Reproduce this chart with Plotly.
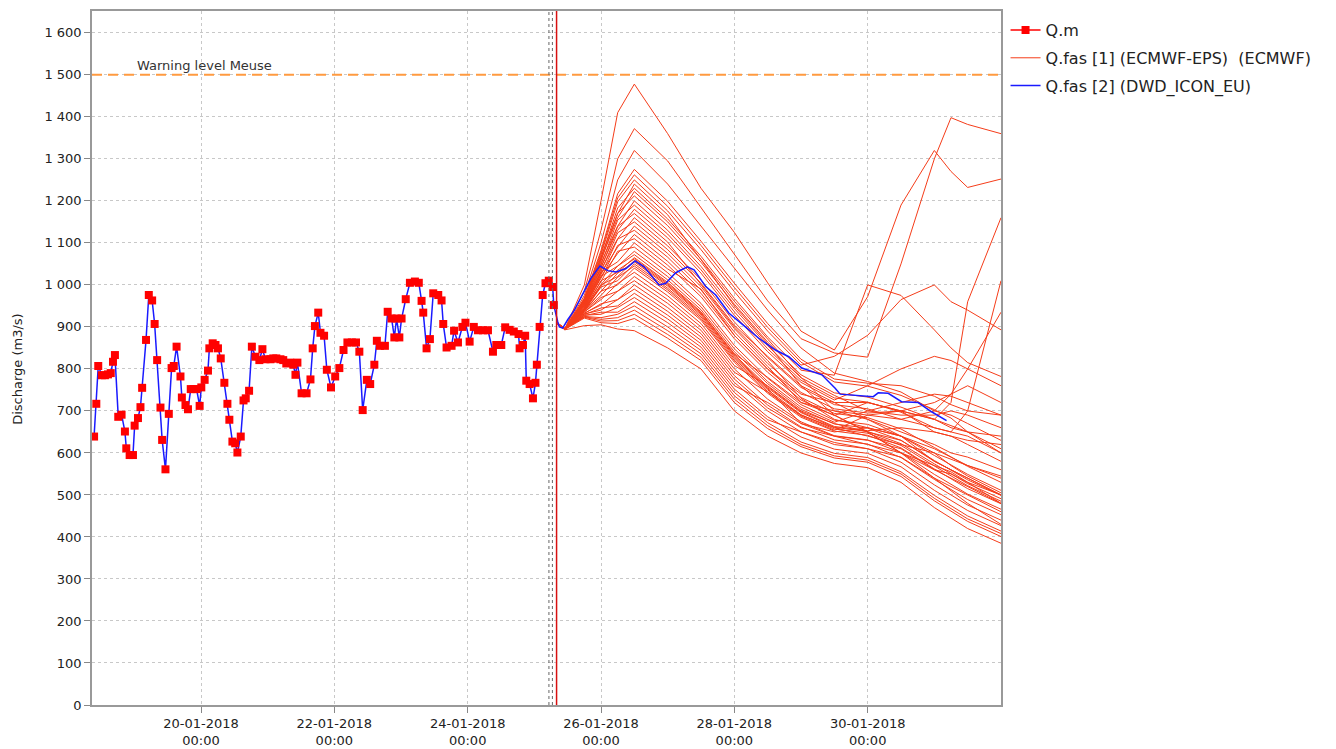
import plotly.graph_objects as go
import pandas as pd

# ---------------- data ----------------
base_time = pd.Timestamp('2018-01-20 00:00')

# observed discharge Q.m (hours relative to 20-01-2018 00:00)
obs_hours = [-38.5, -37.7, -37.0, -35.7, -34.6, -33.5, -32.5, -31.7, -31.0, -29.8,
             -28.6, -27.4, -26.9, -25.7, -24.5, -23.9, -22.7, -21.8, -21.2, -19.8,
             -18.8, -17.6, -16.7, -15.8, -14.6, -14.0, -12.8, -11.6, -10.6, -9.8,
             -8.8, -7.4, -6.9, -5.6, -4.7, -3.7, -2.7, -1.6, -0.5, 0.1,
             1.3, 2.5, 3.0, 4.2, 5.2, 6.1, 7.1, 8.4, 9.5, 10.2,
             11.3, 12.3, 13.1, 14.3, 15.3, 16.1, 17.3, 18.3, 19.6, 21.0,
             22.1, 23.2, 25.0, 26.0, 27.1, 28.6, 29.6, 30.7, 32.1, 33.2,
             34.0, 34.7, 36.2, 38.0, 39.4, 40.2, 41.0, 42.2, 43.0, 44.3,
             45.3, 46.8, 48.3, 49.8, 51.3, 52.7, 54.3, 55.8, 57.0, 58.2,
             59.7, 60.9, 62.4, 63.3, 64.4, 66.2, 67.2, 68.6, 69.6, 70.4,
             71.4, 72.2, 73.7, 75.2, 77.0, 78.4, 79.4, 80.0, 81.2, 82.4,
             83.6, 85.4, 86.6, 87.2, 88.4, 90.2, 91.1, 92.5, 94.1, 95.2,
             96.7, 98.2, 99.7, 101.5, 103.3, 105.1, 106.3, 108.1, 109.5, 111.1,
             112.6, 114.3, 114.7, 115.9, 116.7, 117.1, 118.3, 119.5, 120.4, 120.9,
             121.9, 123.0, 124.0, 125.2, 126.6, 127.0]
obs_values = [639, 717, 807, 785, 785, 787, 790, 817, 833, 686,
              691, 651, 611, 595, 595, 665, 683, 709, 755, 869,
              976, 963, 907, 821, 708, 631, 561, 693, 802, 807,
              853, 782, 732, 714, 704, 752, 752, 752, 712, 756,
              774, 796, 849, 861, 857, 849, 825, 767, 717, 679,
              627, 623, 601, 639, 725, 730, 748, 853, 829, 821,
              847, 823, 823, 825, 825, 823, 821, 813, 815, 810,
              786, 815, 742, 742, 775, 849, 902, 934, 886, 879,
              798, 756, 782, 802, 845, 863, 863, 863, 841, 702,
              774, 764, 810, 867, 855, 855, 936, 920, 875, 920,
              875, 920, 966, 1005, 1008, 1005, 962, 934, 849, 871,
              980, 976, 963, 907, 851, 855, 891, 863, 900, 910,
              865, 900, 892, 892, 892, 841, 857, 857, 899, 893,
              889, 883, 849, 857, 879, 772, 764, 730, 767, 810,
              900, 976, 1004, 1010, 995, 952]

# DWD_ICON_EU forecast (after the observations)
dwd_hours = [128.4, 129.0, 130.2, 132.0, 134.4, 137.4, 140.4, 143.6, 146.4, 149.4,
             153.0, 156.3, 159.5, 164.9, 167.3, 170.9, 175.1, 177.5, 181.7, 185.3,
             190.0, 196.0, 200.8, 206.8, 211.6, 216.3, 223.5, 228.3, 230.1, 242.0,
             243.8, 247.4, 252.2, 258.2, 263.0, 268.4]
dwd_values = [913, 900, 897, 917, 940, 980, 1016, 1045, 1034, 1031,
              1039, 1057, 1043, 1000, 1004, 1029, 1043, 1036, 996, 976,
              933, 900, 873, 845, 829, 802, 786, 754, 740, 734,
              743, 742, 722, 720, 698, 677]

# ECMWF-EPS ensemble members (values at the hours below)
ecmwf_hours = [128, 131, 138, 144, 150, 156, 168, 180, 192, 204, 216, 228, 240, 252, 264, 270, 276, 288]
ecmwf_members = [
    [912, 895, 1000, 1200, 1410, 1478, 1360, 1230, 1125, 1005, 890, 845, 972, 1190, 1320, 1270, 1232, 1252],
    [910, 896, 985, 1130, 1300, 1372, 1295, 1185, 1075, 962, 872, 838, 828, 1050, 1300, 1398, 1382, 1360],
    [910, 895, 975, 1100, 1250, 1320, 1240, 1140, 1040, 940, 850, 790, 770, 745, 700, 690, 670, 630],
    [911, 894, 969, 1082, 1217, 1275, 1199, 1104, 1004, 908, 823, 776, 766, 760, 735, 715, 700, 690],
    [909, 895, 967, 1077, 1207, 1262, 1187, 1094, 994, 899, 816, 769, 759, 737, 703, 683, 650, 600],
    [910, 896, 966, 1072, 1198, 1250, 1176, 1084, 984, 890, 809, 830, 880, 965, 1000, 960, 940, 893],
    [908, 894, 964, 1068, 1170, 1240, 1167, 1060, 950, 860, 760, 690, 650, 600, 540, 510, 480, 430],
    [910, 895, 963, 1064, 1183, 1230, 1157, 1068, 968, 876, 797, 785, 1000, 975, 893, 850, 815, 782],
    [911, 896, 962, 1061, 1160, 1222, 1150, 1061, 961, 871, 780, 700, 680, 640, 580, 560, 540, 500],
    [910, 895, 961, 1057, 1170, 1212, 1141, 1054, 954, 864, 786, 743, 733, 709, 680, 720, 960, 1160],
    [909, 894, 959, 1052, 1140, 1200, 1130, 1044, 944, 855, 779, 737, 700, 690, 690, 700, 690, 660],
    [910, 895, 958, 1048, 1154, 1190, 1121, 1036, 936, 848, 773, 731, 721, 697, 660, 650, 700, 1010],
    [910, 896, 956, 1044, 1130, 1180, 1112, 1028, 928, 841, 768, 726, 760, 800, 830, 820, 800, 760],
    [911, 895, 955, 1040, 1139, 1170, 1102, 1000, 900, 820, 730, 680, 660, 640, 600, 570, 545, 505],
    [910, 894, 954, 1036, 1110, 1160, 1093, 1012, 912, 827, 756, 715, 705, 680, 700, 740, 800, 935],
    [909, 895, 952, 1032, 1124, 1150, 1084, 1004, 904, 830, 760, 720, 720, 700, 650, 640, 620, 580],
    [910, 896, 951, 1028, 1090, 1140, 1075, 996, 896, 813, 744, 705, 695, 700, 720, 740, 760, 720],
    [910, 895, 950, 1024, 1109, 1130, 1066, 988, 888, 806, 720, 690, 650, 600, 560, 550, 530, 480],
    [911, 894, 948, 1020, 1075, 1120, 1056, 980, 880, 799, 732, 694, 684, 657, 613, 590, 568, 530],
    [910, 895, 947, 1016, 1094, 1110, 1047, 972, 872, 792, 726, 689, 720, 700, 680, 665, 650, 640],
    [909, 896, 945, 1030, 1055, 1100, 1038, 990, 880, 800, 740, 720, 680, 650, 620, 600, 590, 560],
    [910, 895, 944, 1008, 1080, 1090, 1029, 956, 856, 778, 715, 678, 668, 640, 594, 571, 549, 511],
    [910, 894, 943, 1020, 1045, 1080, 1020, 948, 848, 770, 709, 673, 700, 720, 740, 735, 720, 690],
    [911, 895, 942, 1001, 1045, 1072, 1012, 941, 841, 765, 704, 669, 659, 630, 582, 559, 536, 499],
    [910, 896, 941, 1010, 1030, 1065, 1006, 936, 836, 780, 720, 700, 690, 700, 680, 660, 650, 610],
    [909, 895, 940, 997, 1035, 1062, 1003, 934, 834, 758, 698, 663, 653, 660, 650, 640, 630, 620],
    [910, 894, 940, 1000, 1020, 1058, 1000, 931, 831, 755, 696, 661, 651, 622, 574, 551, 527, 491],
    [910, 895, 939, 985, 1028, 1055, 997, 928, 828, 753, 670, 650, 660, 640, 610, 590, 570, 540],
    [911, 896, 939, 995, 1010, 1050, 992, 924, 824, 750, 691, 657, 647, 618, 569, 545, 522, 485],
    [910, 895, 938, 975, 1018, 1045, 988, 920, 820, 746, 688, 654, 690, 680, 660, 650, 640, 600],
    [909, 894, 937, 985, 1000, 1040, 983, 916, 816, 742, 685, 652, 642, 612, 562, 539, 515, 479],
    [910, 895, 936, 965, 1003, 1030, 974, 908, 808, 760, 700, 670, 650, 630, 580, 560, 540, 500],
    [910, 896, 935, 970, 985, 1020, 965, 900, 800, 728, 674, 641, 631, 601, 549, 526, 502, 466],
    [911, 895, 933, 952, 985, 1010, 956, 892, 792, 745, 690, 660, 640, 620, 600, 585, 570, 545],
    [910, 894, 932, 955, 965, 1000, 946, 884, 784, 714, 662, 631, 621, 589, 537, 513, 489, 453],
    [909, 895, 931, 940, 965, 990, 937, 876, 776, 707, 660, 640, 630, 610, 560, 540, 520, 480],
    [910, 896, 929, 945, 950, 980, 928, 868, 768, 700, 650, 620, 610, 578, 524, 500, 476, 440],
    [910, 895, 928, 930, 946, 970, 919, 860, 760, 720, 670, 640, 620, 600, 570, 555, 530, 500],
    [911, 894, 927, 935, 935, 960, 910, 852, 752, 686, 638, 609, 599, 567, 511, 487, 463, 427],
    [910, 895, 925, 922, 930, 950, 900, 844, 744, 679, 650, 625, 610, 590, 540, 520, 500, 460],
    [909, 896, 924, 918, 922, 940, 891, 836, 736, 672, 626, 599, 589, 555, 499, 474, 450, 414],
    [910, 895, 923, 914, 915, 930, 882, 828, 728, 665, 620, 593, 583, 550, 492, 468, 443, 408],
    [910, 894, 921, 910, 908, 920, 873, 820, 720, 658, 615, 588, 578, 544, 486, 461, 437, 401],
    [908, 893, 903, 905, 895, 891, 850, 800, 700, 640, 600, 575, 565, 530, 470, 445, 420, 385],
]

warning_level = 1500
warning_label = 'Warning level Meuse'
forecast_time = '2018-01-25 08:00'
marker_times = ['2018-01-25 05:15', '2018-01-25 06:30']

x_range = ['2018-01-18 08:45', '2018-02-01 00:00']
x_tick_dates = ['2018-01-20', '2018-01-22', '2018-01-24', '2018-01-26', '2018-01-28', '2018-01-30']
x_tick_labels = ['20-01-2018<br>00:00', '22-01-2018<br>00:00', '24-01-2018<br>00:00',
                 '26-01-2018<br>00:00', '28-01-2018<br>00:00', '30-01-2018<br>00:00']
y_range = [0, 1652]
y_tick_values = [0, 100, 200, 300, 400, 500, 600, 700, 800, 900, 1000, 1100, 1200, 1300, 1400, 1500, 1600]
y_tick_labels = ['0', '100', '200', '300', '400', '500', '600', '700', '800', '900',
                 '1 000', '1 100', '1 200', '1 300', '1 400', '1 500', '1 600']

series_names = ['Q.m', 'Q.fas [1] (ECMWF-EPS)  (ECMWF)', 'Q.fas [2] (DWD_ICON_EU)']

# ---------------- figure ----------------
def to_time(hours):
    return [base_time + pd.Timedelta(hours=h) for h in hours]

fig = go.Figure()

ens_t = to_time(ecmwf_hours)
for i, member in enumerate(ecmwf_members):
    fig.add_trace(go.Scatter(
        x=ens_t, y=member, mode='lines', name=series_names[1],
        line=dict(color='#f53c19', width=1),
        legendgroup='ecmwf', legendrank=2, showlegend=(i == 0)))

obs_t = to_time(obs_hours)
fig.add_trace(go.Scatter(
    x=obs_t + to_time(dwd_hours), y=obs_values + dwd_values, mode='lines',
    name=series_names[2], line=dict(color='#1a1aff', width=1.5),
    legendgroup='dwd', legendrank=3))

# observed markers on top
fig.add_trace(go.Scatter(
    x=obs_t, y=obs_values, mode='markers', name=series_names[0],
    marker=dict(symbol='square', size=8, color='#ff0000'),
    legendgroup='qm', legendrank=1, showlegend=False))
# legend entry for Q.m (line + marker)
fig.add_trace(go.Scatter(
    x=[None], y=[None], mode='lines+markers', name=series_names[0],
    line=dict(color='#ff0000', width=1.5),
    marker=dict(symbol='square', size=8, color='#ff0000'),
    legendgroup='qm', legendrank=1, showlegend=True))

# warning level
fig.add_shape(type='line', xref='paper', x0=0, x1=1, yref='y', y0=warning_level, y1=warning_level,
              line=dict(color='#ff9a40', width=2, dash='10px,6px'))
fig.add_annotation(xref='paper', x=0.047, yref='y', y=warning_level, text=warning_label,
                   showarrow=False, xanchor='left', yanchor='bottom',
                   font=dict(family='DejaVu Sans', size=13, color='#333333'))

# forecast time markers
for t in marker_times:
    fig.add_shape(type='line', xref='x', x0=t, x1=t, yref='paper', y0=0, y1=1,
                  line=dict(color='#666666', width=1, dash='dot'))
fig.add_shape(type='line', xref='x', x0=forecast_time, x1=forecast_time, yref='paper', y0=0, y1=1,
              line=dict(color='#d81010', width=1.5))

# y-axis title
fig.add_annotation(xref='paper', x=-0.0814, yref='paper', y=0.483, text='Discharge (m3/s)',
                   textangle=-90, showarrow=False, xanchor='center', yanchor='middle',
                   font=dict(family='DejaVu Sans', size=13, color='#222222'))

fig.update_layout(
    width=1328, height=741,
    margin=dict(l=84, r=335, t=3, b=44, autoexpand=False),
    paper_bgcolor='white', plot_bgcolor='white',
    font=dict(family='DejaVu Sans', size=13, color='#222222'),
    showlegend=True,
    legend=dict(x=1.005, y=0.997, xanchor='left', yanchor='top',
                traceorder='grouped', tracegroupgap=4,
                font=dict(family='DejaVu Sans', size=16, color='#222222'),
                bgcolor='rgba(0,0,0,0)', itemwidth=30),
    xaxis=dict(type='date', range=x_range, tickvals=x_tick_dates, ticktext=x_tick_labels,
               automargin=False,
               showgrid=True, gridcolor='#c8c8c8', griddash='dot', gridwidth=1,
               showline=True, linecolor='#999999', linewidth=1.5, mirror=True,
               ticks='outside', ticklen=6, tickcolor='#888888', zeroline=False),
    yaxis=dict(range=y_range, tickvals=y_tick_values, ticktext=y_tick_labels,
               automargin=False,
               showgrid=True, gridcolor='#c8c8c8', griddash='dot', gridwidth=1,
               showline=True, linecolor='#999999', linewidth=1.5, mirror=True,
               ticks='outside', ticklen=6, tickcolor='#888888', zeroline=False),
)

fig.write_html('out.html')
